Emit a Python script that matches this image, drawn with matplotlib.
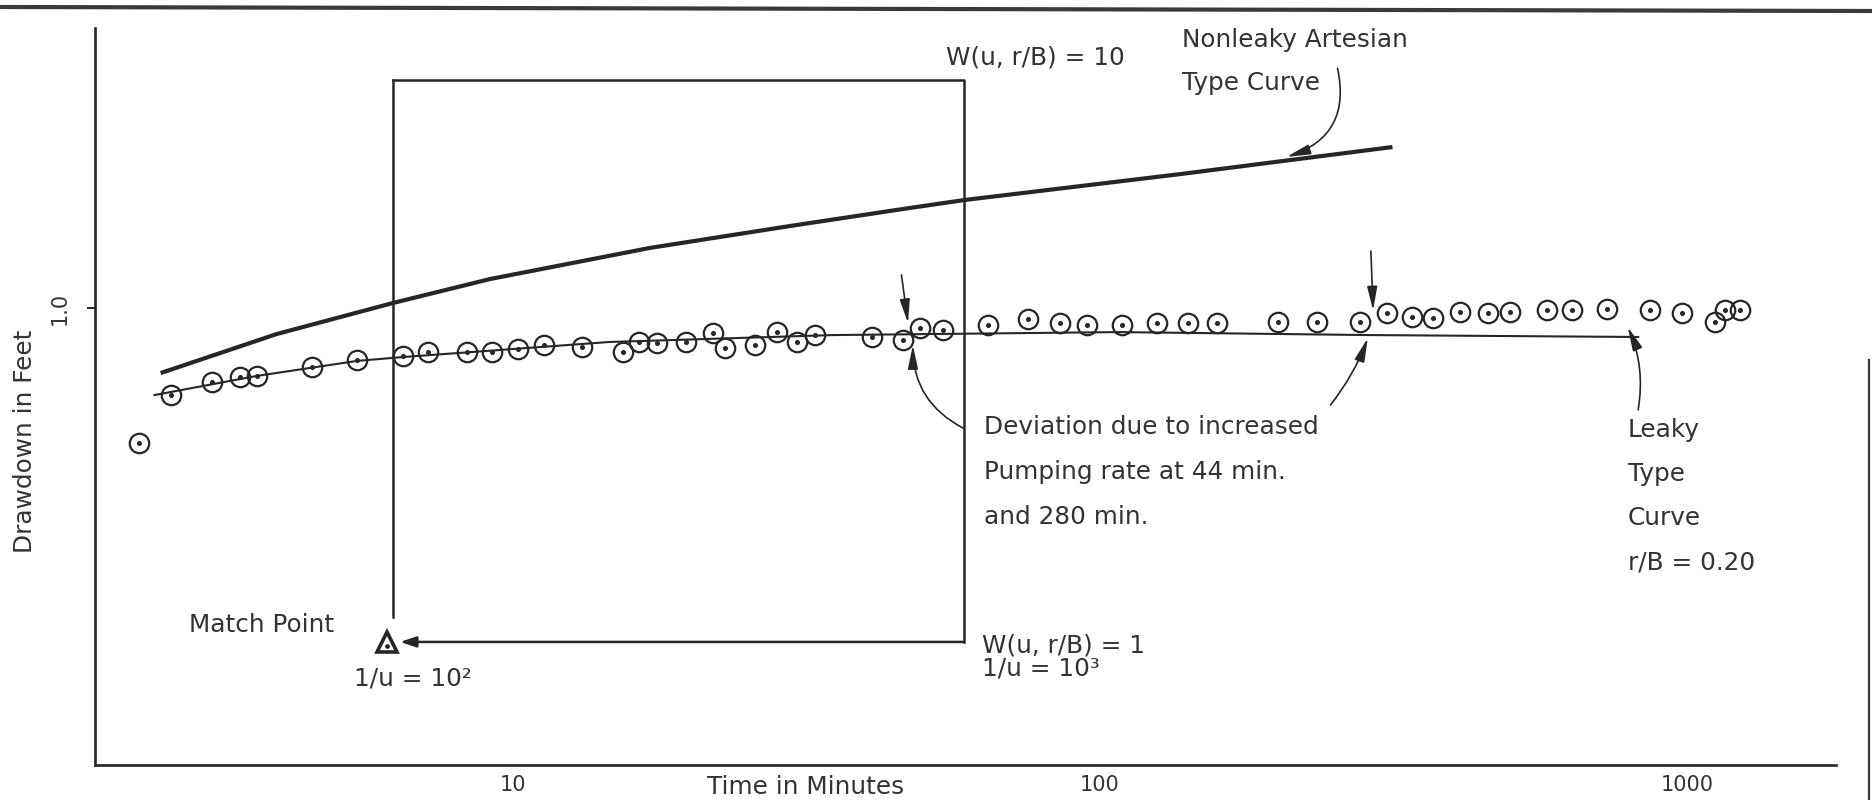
"""Curva de abatimiento (log-log) con superposición de curvas tipo Hantush / Theis."""

import matplotlib

matplotlib.use("Agg")
import matplotlib.pyplot as plt  # noqa: E402
from matplotlib.lines import Line2D  # noqa: E402
from matplotlib.ticker import NullLocator  # noqa: E402

W_PX, H_PX = 1872, 800
INK = "#262626"
TXT = "#333333"
FONT = ["DejaVu Sans"]

# --- datos: tiempo (min) y abatimiento (ft) ---
obs_t = [2.31, 2.61, 3.07, 3.43, 3.66, 4.55, 5.42, 6.50, 7.17, 8.36, 9.21, 10.2,
         11.3, 13.1, 15.4, 16.4, 17.6, 19.7, 21.9, 23.0, 25.8, 28.2, 30.5, 32.7,
         40.9, 46.1, 49.3, 54.1, 64.4, 75.3, 85.5, 95.1, 109, 125, 141, 158,
         201, 234, 277, 308, 340, 369, 410, 458, 499, 577, 637, 731, 865, 980,
         1117, 1161, 1231]
obs_s = [0.575, 0.700, 0.738, 0.754, 0.757, 0.785, 0.808, 0.822, 0.835, 0.835,
         0.835, 0.845, 0.859, 0.852, 0.835, 0.870, 0.866, 0.870, 0.903, 0.849,
         0.859, 0.906, 0.870, 0.895, 0.888, 0.877, 0.921, 0.914, 0.933, 0.956,
         0.940, 0.933, 0.933, 0.940, 0.940, 0.940, 0.944, 0.944, 0.944, 0.980,
         0.964, 0.960, 0.984, 0.980, 0.984, 0.992, 0.992, 0.996, 0.992, 0.980,
         0.944, 0.992, 0.992]

# curva tipo con drenaje (r/B = 0.20)
leaky_t = [2.45, 3.66, 5.42, 6.50, 14.6, 35.1, 108, 288, 826]
leaky_s = [0.700, 0.757, 0.805, 0.818, 0.870, 0.895, 0.906, 0.895, 0.888]

# curva tipo artesiana sin drenaje (Theis)
theis_t = [2.51, 3.96, 6.25, 9.14, 17.1, 29.6, 47.5, 58.6, 137, 315]
theis_s = [0.766, 0.899, 1.021, 1.126, 1.279, 1.399, 1.507, 1.556, 1.731, 1.934]

# punto de ajuste y recuadro de un ciclo logarítmico
match_t, match_s = 6.10, 0.2545
box_t = [6.25, 58.6]
box_s = [0.2545, 2.546]
box_left_end_s = 0.282

x_ticks = [10, 100, 1000]
x_ticklabels = ["10", "100", "1000"]
y_ticks = [1.0]
y_ticklabels = ["1.0"]


def fig_xy(x, y):
    """Posición en píxeles de la imagen -> fracción de figura."""
    return x / W_PX, 1 - y / H_PX


plt.rcParams["font.family"] = FONT
fig = plt.figure(figsize=(W_PX / 100, H_PX / 100), dpi=100)
fig.patch.set_facecolor("white")
ax = fig.add_axes([95 / W_PX, 1 - 765 / H_PX, (1836 - 95) / W_PX, (765 - 28) / H_PX])
ax.set_xscale("log")
ax.set_yscale("log")
ax.set_xlim(1.94, 1795)
ax.set_ylim(0.1537, 3.15)
for side in ("top", "right"):
    ax.spines[side].set_visible(False)
for side in ("left", "bottom"):
    ax.spines[side].set_linewidth(1.9)
    ax.spines[side].set_color(INK)
ax.xaxis.set_minor_locator(NullLocator())
ax.yaxis.set_minor_locator(NullLocator())
ax.set_xticks(x_ticks, x_ticklabels)
ax.set_yticks(y_ticks, y_ticklabels)
ax.tick_params(axis="x", length=0, pad=7, labelsize=15, labelcolor=TXT)
ax.tick_params(axis="y", length=6, width=1.4, color=INK, pad=12, labelsize=15,
               labelcolor=TXT, labelrotation=90)
for lab in ax.get_yticklabels():
    lab.set_verticalalignment("center")

# curvas tipo
ax.plot(theis_t, theis_s, color=INK, lw=3.0, solid_capstyle="butt", zorder=3)
ax.plot(leaky_t, leaky_s, color=INK, lw=1.5, zorder=3)

# observaciones: círculo con punto central
ax.plot(obs_t, obs_s, ls="none", marker="o", ms=14, mfc="none", mec=INK, mew=1.6, zorder=4)
ax.plot(obs_t, obs_s, ls="none", marker="o", ms=2.6, mfc=INK, mec=INK, zorder=4)

# recuadro del punto de ajuste
ax.plot([box_t[0], box_t[1], box_t[1]], [box_s[1], box_s[1], box_s[0]], color=INK, lw=1.8, zorder=3)
ax.plot([box_t[0], box_t[0]], [box_s[1], box_left_end_s], color=INK, lw=1.8, zorder=3)
ax.annotate("", xy=(6.42, box_s[0]), xytext=(box_t[1], box_s[0]),
            arrowprops=dict(arrowstyle="-|>,head_length=0.6,head_width=0.2", color=INK,
                            lw=1.8, mutation_scale=16, shrinkA=0, shrinkB=0))
ax.plot([match_t], [match_s], marker="^", ms=15, mfc="white", mec=INK, mew=2.6, zorder=5)
ax.plot([match_t], [match_s * 0.985], marker="o", ms=2.4, color=INK, zorder=6)

# flechas de anotación
arrow = dict(arrowstyle="-|>,head_length=0.8,head_width=0.17", color=INK, lw=1.2,
             mutation_scale=18, shrinkA=0, shrinkB=0)
ax.annotate("", xy=(47.1, 0.94), xytext=(45.9, 1.145), arrowprops=arrow)
ax.annotate("", xy=(292, 0.99), xytext=(289.5, 1.263), arrowprops=arrow)
ax.annotate("", xy=(48.0, 0.859), xytext=(58.5, 0.611),
            arrowprops=dict(arrow, connectionstyle="arc3,rad=-0.3"))
ax.annotate("", xy=(286, 0.884), xytext=(247, 0.672),
            arrowprops=dict(arrow, connectionstyle="arc3,rad=0.08"))
ax.annotate("", xy=(793, 0.925), xytext=(826, 0.659),
            arrowprops=dict(arrow, connectionstyle="arc3,rad=0.15"))
ax.annotate("", xy=(208, 1.857), xytext=(254, 2.67),
            arrowprops=dict(arrow, connectionstyle="arc3,rad=-0.45"))

# textos
fs = 17.8
texts = [
    (946, 58, "W(u, r/B) = 10"),
    (1182, 40, "Nonleaky Artesian"),
    (1182, 83, "Type Curve"),
    (984, 427, "Deviation due to increased"),
    (984, 472, "Pumping rate at 44 min."),
    (984, 517, "and 280 min."),
    (1628, 430, "Leaky"),
    (1628, 474, "Type"),
    (1628, 518, "Curve"),
    (1628, 563, "r/B = 0.20"),
    (189, 625, "Match Point"),
    (354, 678, "1/u = 10²"),
    (982, 646, "W(u, r/B) = 1"),
    (982, 669, "1/u = 10³"),
]
for x, y, s in texts:
    fig.text(*fig_xy(x, y), s, fontsize=fs, color=TXT, ha="left", va="center")

fig.text(*fig_xy(25, 441), "Drawdown in Feet", fontsize=fs, color=TXT, rotation=90,
         ha="center", va="center")
fig.text(*fig_xy(806, 787), "Time in Minutes", fontsize=fs, color=TXT,
         ha="center", va="center")

# bordes del escaneo
fig.add_artist(Line2D([0, 1], [1 - 7 / H_PX, 1 - 11 / H_PX], color="#3a3a3a", lw=3.0))
fig.add_artist(Line2D([1869 / W_PX, 1869 / W_PX], [0, 1 - 360 / H_PX], color="#3a3a3a", lw=1.6))

fig.savefig("out.png", dpi=100, facecolor="white")
